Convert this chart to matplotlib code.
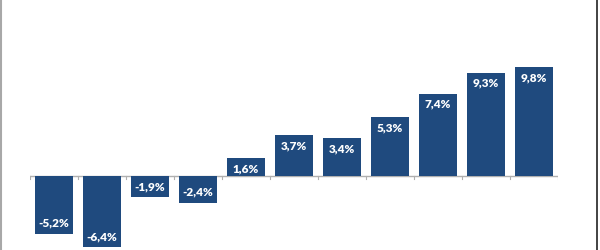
import matplotlib
matplotlib.use("Agg")
import matplotlib.pyplot as plt
from matplotlib.lines import Line2D

values = [-5.2, -6.4, -1.9, -2.4, 1.6, 3.7, 3.4, 5.3, 7.4, 9.3, 9.8]
labels = ["-5,2%", "-6,4%", "-1,9%", "-2,4%", "1,6%", "3,7%", "3,4%",
          "5,3%", "7,4%", "9,3%", "9,8%"]

BAR_COLOR = "#1f4a7e"
AXIS_COLOR = "#b0b0b0"

plt.rcParams['font.family'] = ['Lato', 'DejaVu Sans']

fig = plt.figure(figsize=(6, 2.5), dpi=100)
ax = fig.add_axes([30 / 600, 0, 528 / 600, 1])

x = list(range(len(values)))
ax.bar(x, values, width=0.8, color=BAR_COLOR, zorder=2)

# 11.1 px per percent, zero line at 176 px from the top
ax.set_ylim(-74 / 11.1, 176 / 11.1)
ax.set_xlim(-0.5, len(values) - 0.5)

ax.axhline(0, color=AXIS_COLOR, lw=1, zorder=1)
for b in range(len(values) + 1):
    ax.plot([b - 0.5, b - 0.5], [0, -0.25], color=AXIS_COLOR, lw=0.8, zorder=1)

for xi, v, lab in zip(x, values, labels):
    inner = v - 0.95 if v > 0 else v + 0.95
    ax.text(xi, inner, lab, ha="center", va="center", color="white",
            fontsize=8.5, fontweight="heavy", zorder=3)

ax.axis("off")

# frame edges of the original picture
fig.add_artist(Line2D([0.0015, 0.0015], [0, 1], color="#a8a8a8", lw=1.5,
                      transform=fig.transFigure))
fig.add_artist(Line2D([596.5 / 600, 596.5 / 600], [0, 1], color="#222222", lw=1.2,
                      transform=fig.transFigure))

fig.savefig("out.png", dpi=100)
